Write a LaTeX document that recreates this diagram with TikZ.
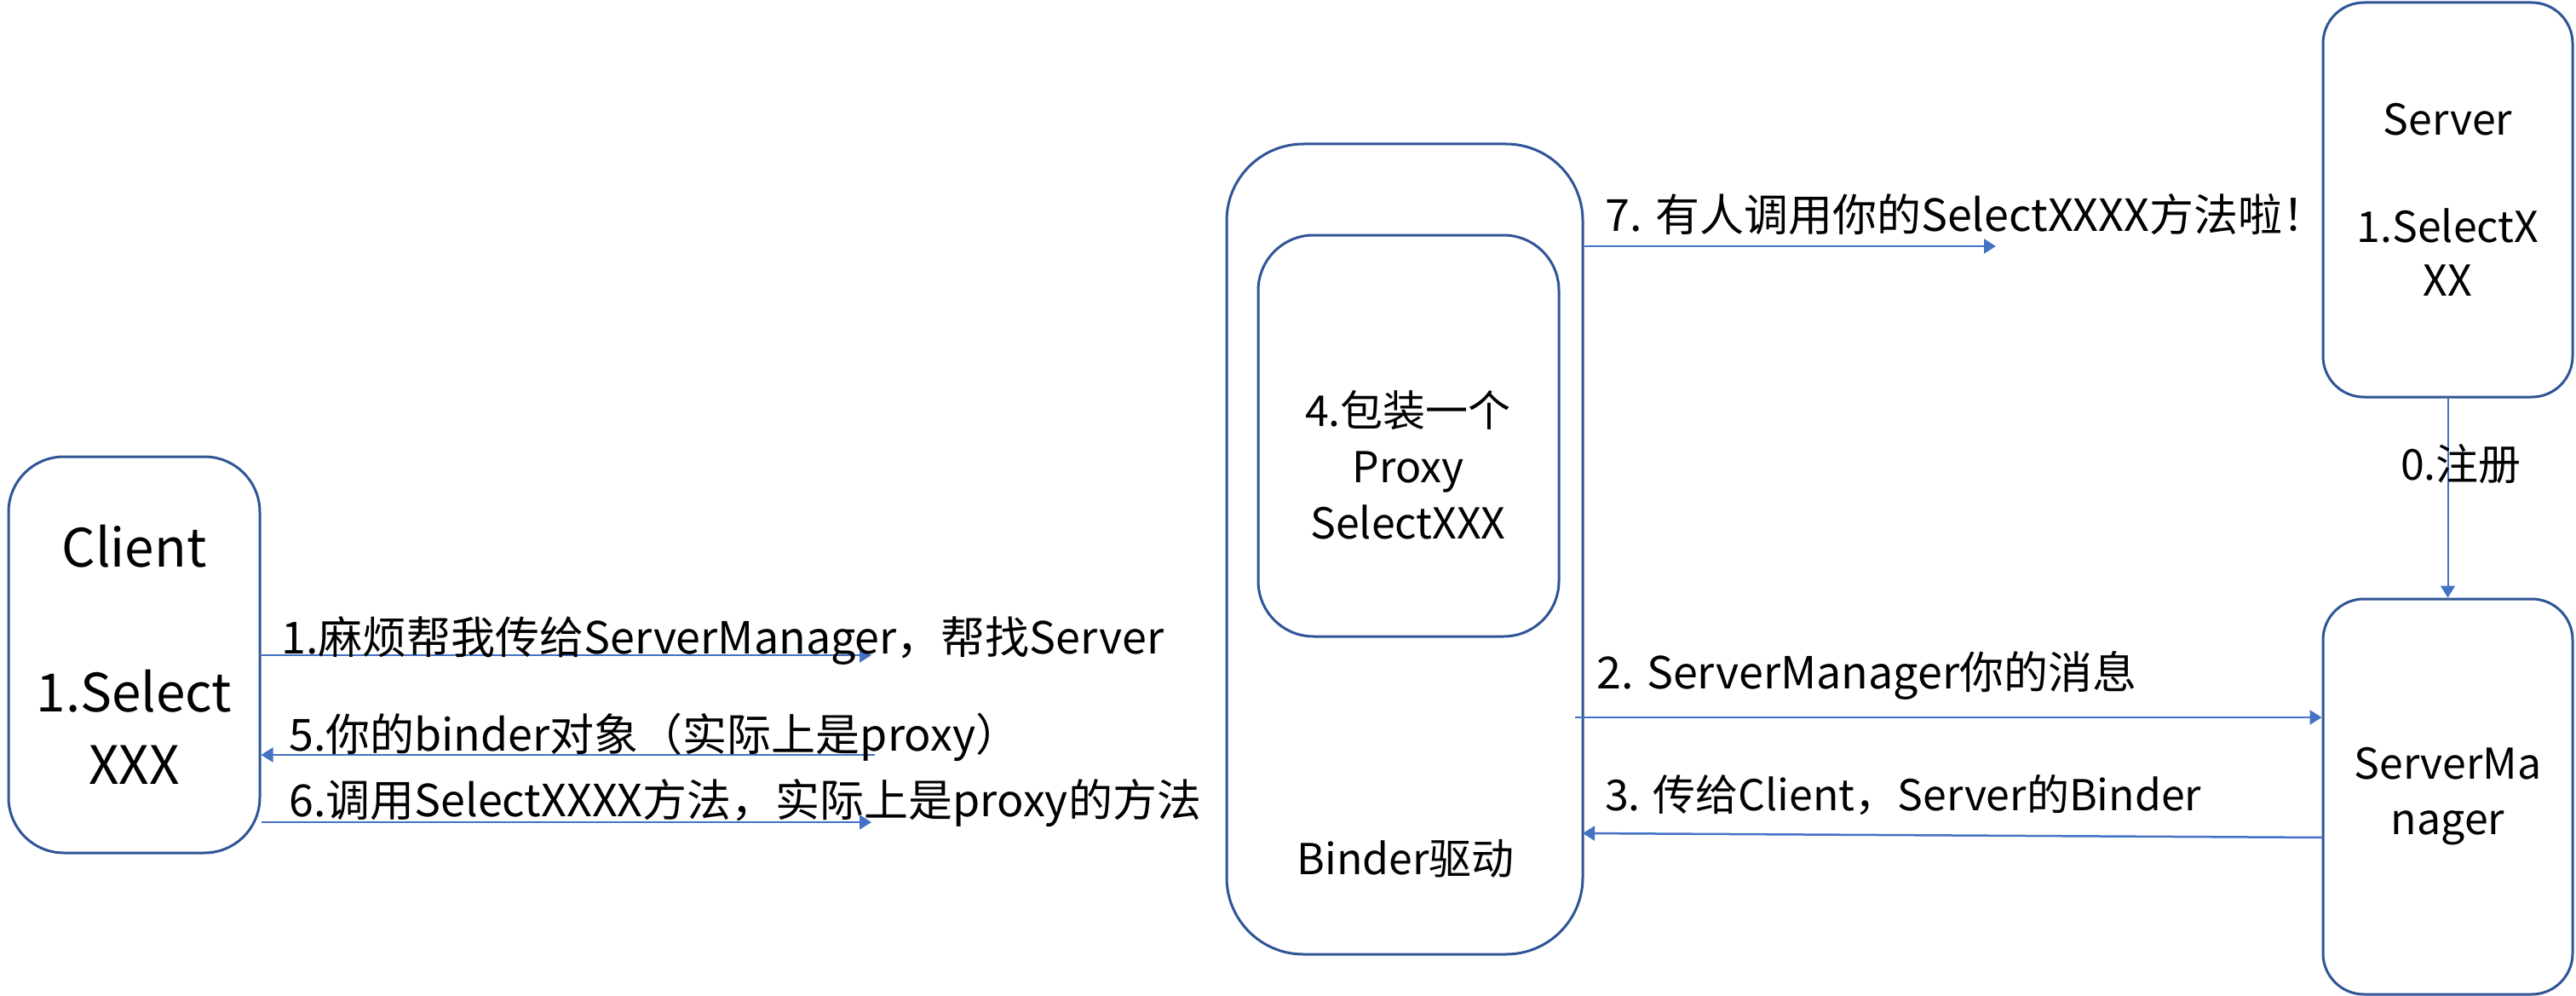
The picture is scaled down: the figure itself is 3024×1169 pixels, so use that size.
\documentclass[tikz,border=0pt]{standalone}
\usepackage{fontspec}
\setmainfont{Noto Sans CJK SC}
\usetikzlibrary{arrows.meta}
\definecolor{boxblue}{HTML}{2F5597}
\definecolor{arrblue}{HTML}{4472C4}
\tikzset{
  box/.style={draw=boxblue, line width=3pt, fill=white, inner sep=0pt, align=center},
  lbl/.style={inner sep=0pt, anchor=west, font=\fontsize{52}{60}\selectfont},
  arr/.style={draw=arrblue, line width=2.5pt, -{Triangle[width=17pt,length=14pt]}},
  thinarr/.style={draw=arrblue, line width=2pt, -{Triangle[width=17pt,length=14pt]}}
}
\begin{document}
\begin{tikzpicture}[x=1pt,y=-1pt]
\useasboundingbox (0,0) rectangle (3024,1169);
% boxes
\node[box, rounded corners=65pt, minimum width=295pt, minimum height=465pt,
      font=\fontsize{62}{85}\selectfont] (client) at (157.5,768.5)
      {Client\\[85pt]1.Select\\XXX};
\node[box, rounded corners=90pt, minimum width=418pt, minimum height=951pt] (binder) at (1649,644.5) {};
\node[box, rounded corners=65pt, minimum width=353pt, minimum height=471pt] (proxy) at (1653.5,511.5) {};
\node[inner sep=0pt, align=center, font=\fontsize{50}{66}\selectfont] (proxytxt) at (1653,546)
      {4.包装一个\\Proxy\\SelectXXX};
\node[inner sep=0pt, font=\fontsize{50}{60}\selectfont] (bindertxt) at (1650,1008) {Binder驱动};
\node[box, rounded corners=48pt, minimum width=293pt, minimum height=463pt,
      font=\fontsize{50}{63}\selectfont] (server) at (2873.5,234.5)
      {Server\\[63pt]1.SelectX\\XX};
\node[box, rounded corners=48pt, minimum width=293pt, minimum height=464pt,
      font=\fontsize{50}{65}\selectfont] (sm) at (2873.5,935)
      {ServerMa\\nager};
% arrow end coordinates
\coordinate (e1) at (1023,769);
\coordinate (s5) at (1027,886);
\coordinate (e6) at (1023,965);
\coordinate (e7) at (2343,289);
\coordinate (s2) at (1849,842);
\coordinate (s3) at (2727,983);
\coordinate (e3) at (1858,978);
% connectors
\draw[thinarr] (server.south) -- (sm.north);
\draw[arr] (client.east |- e1) -- (e1);
\draw[arr] (s5) -- (client.east |- s5);
\draw[arr] (client.east |- e6) -- (e6);
\draw[arr] (binder.east |- e7) -- (e7);
\draw[arr] (s2) -- (sm.west |- s2);
\draw[arr] (s3) -- (e3);
% labels
\node[lbl, font=\fontsize{50}{60}\selectfont] (l0) at (2818,545) {0.注册};
\node[lbl] (l1) at (330,752) {1.麻烦帮我传给ServerManager，帮找Server};
\node[lbl] (l5) at (339,865) {5.你的binder对象（实际上是proxy）};
\node[lbl] (l6) at (339,943) {6.调用SelectXXXX方法，实际上是proxy的方法};
\node[lbl] (l7) at (1884,252) {7. 有人调用你的SelectXXXX方法啦！};
\node[lbl] (l2) at (1874,793) {2. ServerManager你的消息};
\node[lbl, font=\fontsize{50}{60}\selectfont] (l3) at (1884,933) {3. 传给Client，Server的Binder};
\end{tikzpicture}
\end{document}
